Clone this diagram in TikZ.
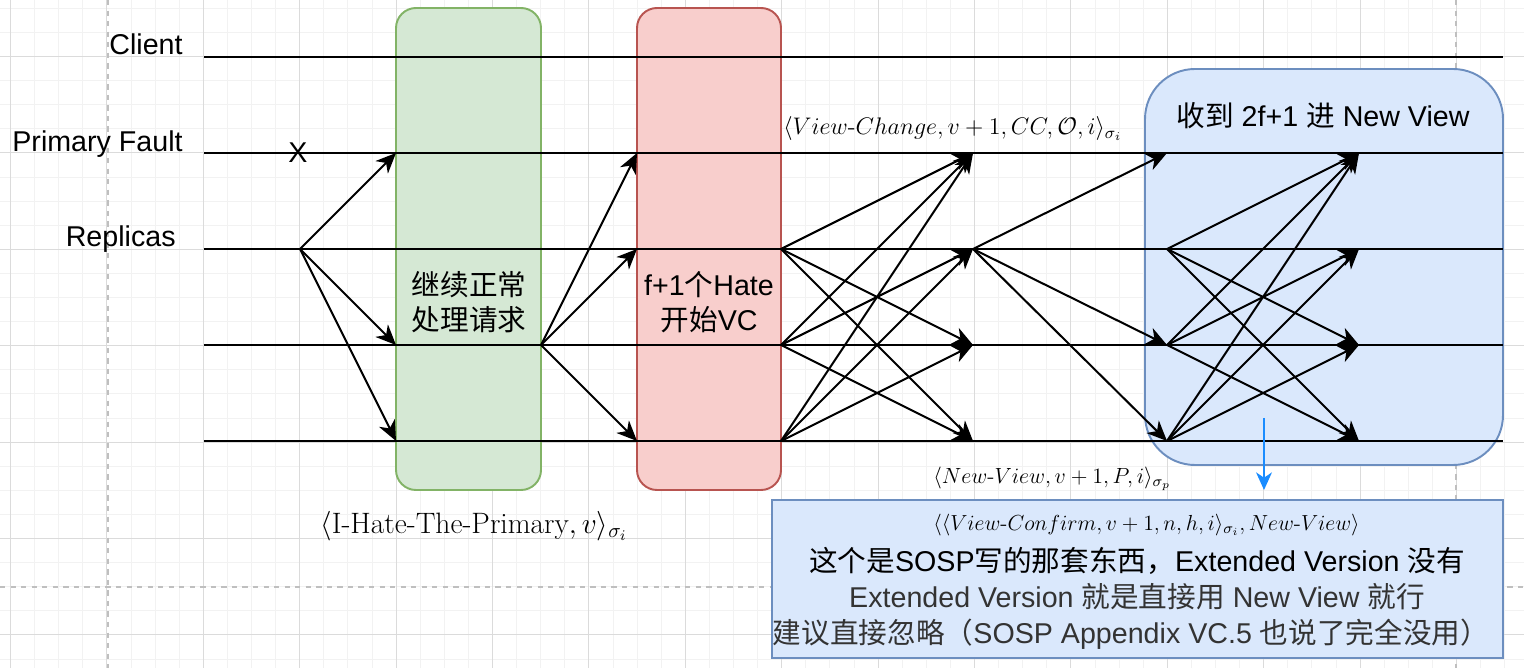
\documentclass[tikz,border=0pt]{standalone}
\usepackage{fix-cm}
\usepackage{amsmath}
\usepackage[no-math]{fontspec}
\setmainfont{Liberation Sans}
\newfontfamily\cjk{Noto Sans CJK SC}
\newfontfamily\cmr{Latin Modern Roman}
\usetikzlibrary{arrows.meta}
\newcommand\zh[1]{{\cjk #1}}

\definecolor{gfill}{HTML}{D5E8D4}
\definecolor{gline}{HTML}{82B366}
\definecolor{rfill}{HTML}{F8CECC}
\definecolor{rline}{HTML}{B85450}
\definecolor{bfill}{HTML}{DAE8FC}
\definecolor{bline}{HTML}{6C8EBF}
\definecolor{notearrow}{HTML}{1A8CFF}
\definecolor{greytext}{HTML}{333333}

\tikzset{
	minorgrid/.style={line width=0.5pt, color=black!5},
	majorgrid/.style={line width=0.5pt, color=black!14},
	pagebreak/.style={line width=0.8pt, color=black!25, dashed},
	lane/.style={line width=1.4pt},
	msg/.style={line width=1.15pt, -{Stealth[length=11.5pt,width=10pt,inset=3.5pt]}},
	phasebox/.style={line width=1.1pt, rounded corners=0.4cm},
	lbl/.style={inner sep=0pt, font=\fontsize{16.3}{19.8}\selectfont},
}

\begin{document}
\begin{tikzpicture}[x=0.02cm,y=-0.02cm]
			%%%%% START %%%%%
			\useasboundingbox (0,0) rectangle (1524,668);
			
			% grid
			\foreach \i in {0,...,62}
				\draw[minorgrid] ({10.5+24.1*\i},0) -- ({10.5+24.1*\i},668);
			\foreach \i in {0,...,27}
				\draw[minorgrid] (0,{8.3+24.1*\i}) -- (1524,{8.3+24.1*\i});
			\foreach \i in {0,...,15}
				\draw[majorgrid] ({10.5+96.4*\i},0) -- ({10.5+96.4*\i},668);
			\foreach \i in {0,...,6}
				\draw[majorgrid] (0,{56.5+96.4*\i}) -- (1524,{56.5+96.4*\i});
			\draw[pagebreak] (108,0) -- (108,668);
			\draw[pagebreak] (1456,0) -- (1456,668);
			\draw[pagebreak] (0,587) -- (1524,587);
			
			% phases
			\draw[phasebox, fill=gfill, draw=gline] (396,8) rectangle (541,490);
			\draw[phasebox, fill=rfill, draw=rline] (637,8) rectangle (781,490);
			\draw[line width=1.1pt, rounded corners=1cm, fill=bfill, draw=bline] (1145,69) rectangle (1503,465);
			\draw[line width=1.1pt, fill=bfill, draw=bline] (772,500) rectangle (1503,658);
			
			% lanes
			\foreach \l/\y in {1/57,2/153,3/249,4/345,5/441} {
				\coordinate (l\l s) at (204,\y);
				\coordinate (l\l e) at (1503,\y);
				\draw[lane] (l\l s) -- (l\l e);
			}
			\foreach \c/\x in {a/300,b/396,c/541,d/637,e/781,f/973,g/1167,h/1359}
				\foreach \l/\y in {2/153,3/249,4/345,5/441}
					\coordinate (\c\l) at (\x,\y);
			
			\node[lbl, anchor=base east] (client) at (183,55) {Client};
			\node[lbl, anchor=base east] (primary) at (183,152) {Primary Fault};
			\node[lbl, anchor=base east] (replicas) at (176,247) {Replicas};
			\node[lbl, anchor=base] (fault) at (298,163) {X};
			
			% messages
			\draw[msg] (a3) -- (b2);
			\draw[msg] (a3) -- (b4);
			\draw[msg] (a3) -- (b5);
			
			\draw[msg] (c4) -- (d2);
			\draw[msg] (c4) -- (d3);
			\draw[msg] (c4) -- (d5);
			
			\foreach \i in {3,4,5}
				\foreach \j in {2,3,4,5} {
					\ifnum\i=\j\else \draw[msg] (e\i) -- (f\j); \fi
				}
			
			\draw[msg] (f3) -- (g2);
			\draw[msg] (f3) -- (g4);
			\draw[msg] (f3) -- (g5);
			
			\foreach \i in {3,4,5}
				\foreach \j in {2,3,4,5} {
					\ifnum\i=\j\else \draw[msg] (g\i) -- (h\j); \fi
				}
			
			% texts
			\node[lbl, align=center] (keepon) at (469,302) {\zh{继续正常}\\\zh{处理请求}};
			\node[lbl, align=center] (startvc) at (709,302) {f+1\zh{个}Hate\\\zh{开始}VC};
			\node[lbl, anchor=base] (newview) at (1323,127) {\zh{收到} 2f+1 \zh{进} New View};
			
			\node[inner sep=0pt, anchor=base west, font=\fontsize{13.65}{16}\selectfont] (vcmsg) at (783,135)
				{$\langle View\text{\cmr -}Change, v+1, CC, \mathcal{O}, i\rangle_{\sigma_i}$};
			\node[inner sep=0pt, anchor=base west, font=\fontsize{12.5}{15}\selectfont] (nvmsg) at (933,483)
				{$\langle New\text{\cmr -}View, v+1, P, i\rangle_{\sigma_p}$};
			\node[inner sep=0pt, anchor=base west, font=\fontsize{16.8}{19}\selectfont] (hatemsg) at (320,533)
				{$\langle \text{\cmr I-Hate-The-Primary}, v\rangle_{\sigma_i}$};
			\node[inner sep=0pt, anchor=base west, font=\fontsize{12.4}{15}\selectfont] (confirmmsg) at (933,530)
				{$\langle\langle View\text{\cmr -}Confirm, v+1, n, h, i\rangle_{\sigma_i}, New\text{\cmr -}View\rangle$};
			
			\node[lbl, anchor=base] (note1) at (1137,571) {\zh{这个是}SOSP\zh{写的那套东西，}Extended Version \zh{没有}};
			\node[lbl, anchor=base, text=greytext] (note2) at (1137,607) {Extended Version \zh{就是直接用} New View \zh{就行}};
			\node[lbl, anchor=base, text=greytext] (note3) at (1131,643) {\zh{建议直接忽略（}SOSP Appendix VC.5 \zh{也说了完全没用）}};
			
			\coordinate (arrowtop) at (1264,418);
			\coordinate (arrowend) at (1264,490);
			\draw[line width=1.1pt, color=notearrow, -{Stealth[length=10pt,width=9pt,inset=3pt]}] (arrowtop) -- (arrowend);
			
			%%%%% END %%%%%
\end{tikzpicture}
\end{document}
